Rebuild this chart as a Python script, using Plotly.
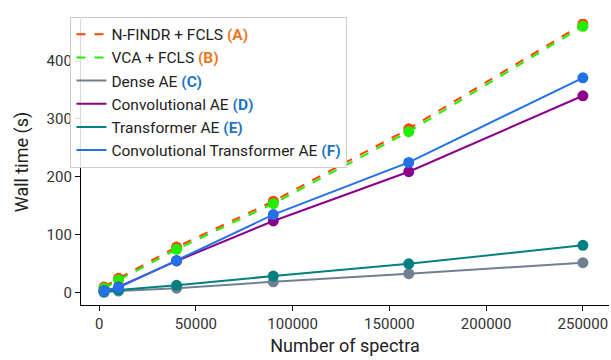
import plotly.graph_objects as go

n_spectra = [2500, 10000, 40000, 90000, 160000, 250000]

nfindr = [10, 25, 79, 158, 283, 464]
vca = [8, 22, 75, 154, 278, 460]
dense_ae = [1, 3, 8, 19, 33, 52]
conv_ae = [3, 10, 55, 124, 209, 340]
transformer_ae = [2, 5, 13, 29, 50, 82]
conv_transformer_ae = [4, 9, 56, 135, 225, 371]

ORANGE = "#e8781e"
BLUE = "#1f74c0"

series = [
    ("N-FINDR + FCLS", "A", ORANGE, nfindr, "#ff4500", "dash"),
    ("VCA + FCLS", "B", ORANGE, vca, "#22ee00", "dash"),
    ("Dense AE", "C", BLUE, dense_ae, "#708090", "solid"),
    ("Convolutional AE", "D", BLUE, conv_ae, "#8b008b", "solid"),
    ("Transformer AE", "E", BLUE, transformer_ae, "#008080", "solid"),
    ("Convolutional Transformer AE", "F", BLUE, conv_transformer_ae, "#2271e6", "solid"),
]

fig = go.Figure()
for i, (name, letter, lcol, vals, col, dash) in enumerate(series):
    label = f"{name} <b><span style='color:{lcol}'>({letter})</span></b>"
    fig.add_trace(go.Scatter(
        x=n_spectra, y=vals, mode="lines", name=label, legendgroup=str(i),
        line=dict(color=col, width=2, dash=dash),
    ))
    fig.add_trace(go.Scatter(
        x=n_spectra, y=vals, mode="markers", showlegend=False, legendgroup=str(i),
        marker=dict(color=col, size=11),
        hoverinfo="skip",
    ))

axis_common = dict(
    showline=True, linecolor="black", linewidth=1.2, mirror=False,
    ticks="outside", ticklen=5, tickcolor="black", tickwidth=1,
    showgrid=False, zeroline=False, automargin=False,
    tickfont=dict(size=15, color="#333333"),
)

fig.update_layout(
    width=611, height=360,
    margin=dict(l=81, r=2, t=19, b=55),
    paper_bgcolor="white", plot_bgcolor="white",
    font=dict(family="Roboto", size=15, color="#222222"),
    xaxis=dict(range=[-9400, 263500], tickvals=[0, 50000, 100000, 150000, 200000, 250000],
               ticktext=["0", "50000", "100000", "150000", "200000", "250000"],
               title=dict(text="Number of spectra", font=dict(size=18), standoff=7),
               **axis_common),
    yaxis=dict(range=[-21, 472.5], tickvals=[0, 100, 200, 300, 400],
               title=dict(text="Wall time (s)", font=dict(size=18), standoff=13),
               **axis_common),
    legend=dict(x=-0.02, y=1.008, xanchor="left", yanchor="top",
                bgcolor="rgba(255,255,255,0.85)", bordercolor="#cccccc", borderwidth=1,
                font=dict(size=15.5, color="#222222"), tracegroupgap=0,
                itemwidth=30),
    showlegend=True,
)

fig.write_html(
    "out.html",
    config={"displayModeBar": False},
    post_script="document.body.style.margin='0';document.body.style.overflow='hidden';",
)
